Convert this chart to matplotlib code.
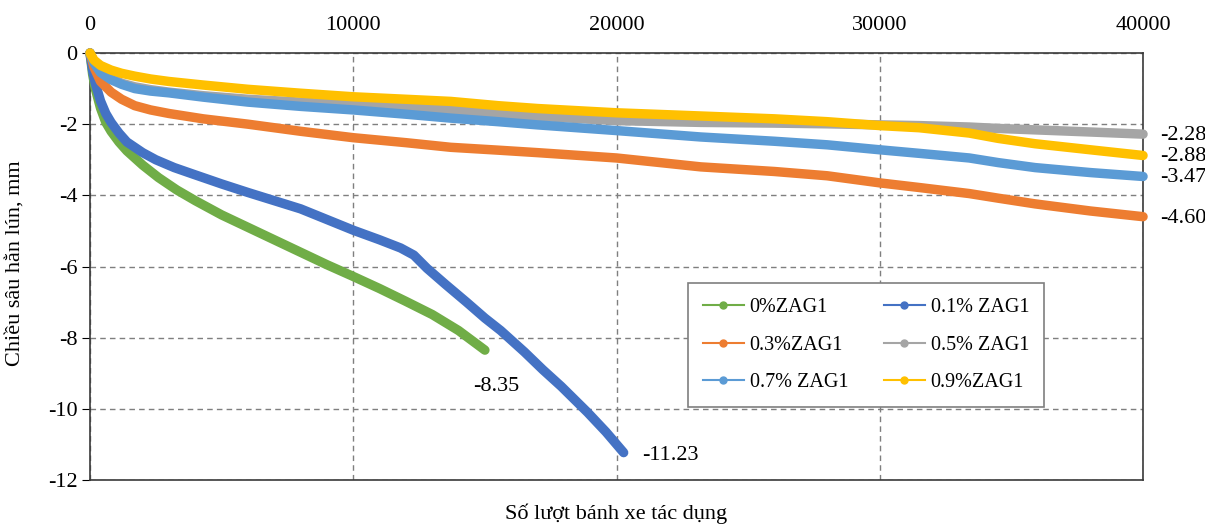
import matplotlib
matplotlib.use("Agg")
import matplotlib.pyplot as plt
from matplotlib.lines import Line2D

plt.rcParams['font.family'] = ['Liberation Serif', 'DejaVu Serif']
plt.rcParams['font.size'] = 16

# readings taken off the curves (cycles, rut depth mm)
x_0 = [0, 100, 200, 400, 600, 800, 1100, 1400, 2000, 2600, 3300, 4000, 5000,
       6000, 7000, 8000, 9000, 10000, 11000, 12000, 13000, 14000, 15000]
y_0 = [0, -0.6, -1.0, -1.55, -1.95, -2.2, -2.5, -2.75, -3.15, -3.5, -3.85,
       -4.15, -4.55, -4.9, -5.25, -5.6, -5.95, -6.28, -6.62, -6.98, -7.35,
       -7.8, -8.35]

x_01 = [0, 100, 200, 400, 600, 800, 1100, 1400, 2000, 2500, 3200, 3900, 5000,
        6000, 7000, 8000, 9000, 10000, 11000, 11800, 12300, 12800, 13500,
        14300, 15000, 15600, 16500, 17200, 17900, 18900, 19600, 20270]
y_01 = [0, -0.5, -0.85, -1.35, -1.7, -1.95, -2.25, -2.5, -2.8, -3.0, -3.22,
        -3.4, -3.68, -3.92, -4.15, -4.38, -4.68, -4.98, -5.25, -5.48, -5.68,
        -6.05, -6.5, -7.0, -7.45, -7.8, -8.4, -8.9, -9.37, -10.1, -10.65,
        -11.23]

x_long = [0, 150, 400, 800, 1200, 1700, 2300, 3000, 4300, 6000, 8000, 10000,
          12000, 13700, 15500, 17000, 20000, 23200, 26000, 28000, 30000,
          31500, 33400, 34500, 35900, 38000, 40000]
y_03 = [0, -0.4, -0.8, -1.1, -1.3, -1.48, -1.6, -1.7, -1.85, -2.0, -2.2,
        -2.38, -2.52, -2.65, -2.73, -2.8, -2.95, -3.2, -3.33, -3.45, -3.65,
        -3.78, -3.95, -4.08, -4.24, -4.44, -4.6]
y_05 = [0, -0.25, -0.5, -0.7, -0.85, -0.95, -1.03, -1.1, -1.2, -1.3, -1.38,
        -1.46, -1.53, -1.6, -1.7, -1.78, -1.9, -1.95, -1.97, -1.99, -2.02,
        -2.04, -2.08, -2.12, -2.16, -2.22, -2.28]
y_07 = [0, -0.28, -0.55, -0.75, -0.88, -1.0, -1.07, -1.12, -1.24, -1.38,
        -1.5, -1.6, -1.72, -1.83, -1.93, -2.02, -2.18, -2.36, -2.48, -2.58,
        -2.72, -2.82, -2.95, -3.08, -3.22, -3.36, -3.47]
y_09 = [0, -0.2, -0.35, -0.48, -0.57, -0.65, -0.73, -0.8, -0.9, -1.02, -1.13,
        -1.23, -1.3, -1.36, -1.48, -1.56, -1.68, -1.77, -1.85, -1.93, -2.04,
        -2.1, -2.25, -2.4, -2.55, -2.72, -2.88]

labels = ['0%ZAG1', '0.1% ZAG1', '0.3%ZAG1', '0.5% ZAG1', '0.7% ZAG1', '0.9%ZAG1']
colors = ['#70AD47', '#4472C4', '#ED7D31', '#A5A5A5', '#5B9BD5', '#FFC000']

series = [(x_0, y_0), (x_01, y_01), (x_long, y_03), (x_long, y_05),
          (x_long, y_07), (x_long, y_09)]

fig = plt.figure(figsize=(12.05, 5.29), dpi=100)
ax = fig.add_axes([0.0747, 0.0926, 0.8739, 0.8072])

for (xs, ys), c in zip(series, colors):
    ax.plot(xs, ys, color=c, lw=6.8, solid_capstyle='round',
            solid_joinstyle='round', clip_on=False, zorder=3)

ax.set_xlim(0, 40000)
ax.set_ylim(-12, 0)
ax.set_xticks([0, 10000, 20000, 30000, 40000])
ax.set_yticks([0, -2, -4, -6, -8, -10, -12])
ax.set_yticklabels(['0', '-2', '-4', '-6', '-8', '-10', '-12'])

ax.xaxis.tick_top()
ax.tick_params(axis='x', length=0, pad=13, labelsize=16)
ax.tick_params(axis='y', length=6, direction='out', pad=3, labelsize=16)
ax.grid(True, color='#7f7f7f', linestyle=(0, (4, 3)), lw=1)
for s in ax.spines.values():
    s.set_color('#3a3a3a')
    s.set_linewidth(1.2)

ax.xaxis.set_label_position('bottom')
ax.set_xlabel('Số lượt bánh xe tác dụng', fontsize=16)
ax.xaxis.set_label_coords(0.5, -0.054)
ax.set_ylabel('Chiều sâu hằn lún, mm', fontsize=16)
ax.yaxis.set_label_coords(-0.062, 0.508)

# end-value labels
ax.annotate('-8.35', (x_0[-1], y_0[-1]), xytext=(8, -26),
            textcoords='offset points', ha='center', va='center', fontsize=16)
ax.annotate('-11.23', (x_01[-1], y_01[-1]), xytext=(13, -2),
            textcoords='offset points', ha='left', va='center', fontsize=16)
for ys in (y_05, y_09, y_07, y_03):
    ax.annotate('%.2f' % ys[-1], (x_long[-1], ys[-1]), xytext=(12, -1),
                textcoords='offset points', ha='left', va='center',
                fontsize=16, annotation_clip=False)

# legend is filled column by column, so reorder to read row by row
order = [0, 2, 4, 1, 3, 5]
handles = [Line2D([], [], color=colors[i], lw=1.5, marker='o', ms=5) for i in order]
leg = ax.legend(handles, [labels[i] for i in order], ncol=2, loc='upper left',
                bbox_to_anchor=(0.568, 0.461), fontsize=14.5, frameon=True,
                fancybox=False, edgecolor='#7f7f7f', framealpha=1,
                handlelength=2.0, handletextpad=0.3, columnspacing=1.8,
                labelspacing=0.9, borderpad=0.75, borderaxespad=0)
leg.get_frame().set_linewidth(1.2)
leg.set_zorder(5)

fig.savefig('out.png', dpi=100)
